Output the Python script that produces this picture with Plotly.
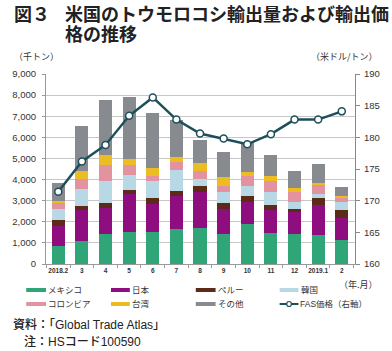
import plotly.graph_objects as go

months = ["2018.2", "3", "4", "5", "6", "7", "8", "9", "10", "11", "12", "2019.1", "2"]
mexico = [870, 1090, 1440, 1530, 1530, 1650, 1710, 1410, 1900, 1460, 1420, 1380, 1140]
japan = [930, 1490, 1190, 1780, 1310, 1550, 1690, 1200, 1020, 1100, 1020, 1400, 1030]
peru = [290, 190, 250, 200, 310, 270, 300, 270, 280, 240, 170, 330, 390]
korea = [520, 800, 1030, 710, 790, 960, 330, 510, 500, 620, 350, 190, 370]
colombia = [300, 480, 760, 450, 210, 380, 380, 310, 490, 490, 460, 470, 220]
taiwan = [80, 340, 470, 310, 420, 280, 370, 400, 190, 270, 200, 80, 50]
other = [840, 2140, 2630, 2950, 2600, 1710, 1110, 1200, 1400, 990, 790, 870, 470]
fas_price = [171.4, 176.2, 178.8, 183.4, 186.3, 182.8, 180.6, 179.8, 178.9, 180.5, 182.8, 182.8, 184.1]

series = [
    ("メキシコ", mexico, "#30a678"),
    ("日本", japan, "#8e0e80"),
    ("ペルー", peru, "#5c2b18"),
    ("韓国", korea, "#b8d8e6"),
    ("コロンビア", colombia, "#e3929f"),
    ("台湾", taiwan, "#ebbd22"),
    ("その他", other, "#878b8f"),
]
line_name = "FAS価格（右軸）"
line_color = "#1d4f5b"

W, H = 392, 351
L, R, T, B = 37, 27, 74, 87
PW, PH = W - L - R, H - T - B

JP = "Noto Sans CJK JP"
LAT = "Liberation Sans, Noto Sans CJK JP"


def px(x):
    return (x - L) / PW


def py(y):
    return (H - B - y) / PH


fig = go.Figure()
for name, vals, col in series:
    fig.add_trace(go.Bar(x=months, y=vals, name=name, marker=dict(color=col, line=dict(width=0)),
                         showlegend=False))
fig.add_trace(go.Scatter(x=months, y=fas_price, name=line_name, yaxis="y2", mode="lines+markers",
                         line=dict(color=line_color, width=2.5),
                         marker=dict(size=7, color="white", line=dict(color=line_color, width=1.5)),
                         showlegend=False))

anns = []
shapes = []


def ann(text, x, y, size, xanchor="left", family=JP, weight=400, color="#222"):
    anns.append(dict(text=text, x=px(x), y=py(y), xref="paper", yref="paper", xanchor=xanchor,
                     yanchor="middle", showarrow=False, borderpad=0,
                     font=dict(family=family, size=size, color=color, weight=weight)))


# title
ann("図３", 2, 12.5, 18, weight=700)
ann("米国のトウモロコシ輸出量および輸出価", 56, 12.5, 18, weight=700)
ann("格の推移", 56, 33.5, 18, weight=700)
# axis units
ann("（千トン）", 2, 57, 9, color="#333")
ann("（米ドル/トン）", 390, 57, 9, xanchor="right", color="#333")
ann("（年.月）", 390, 284, 9, xanchor="right", color="#333")

# legend
rows = [290, 304]
cols = [(16, 37), (106, 126), (196, 217), (285, 305)]
entries = [(n, c) for n, _, c in series] + [(line_name, None)]
for i, (name, col) in enumerate(entries):
    r, c = divmod(i, 4)
    yc = rows[r]
    x0, x1 = cols[c]
    if col is not None:
        shapes.append(dict(type="rect", xref="paper", yref="paper", x0=px(x0), x1=px(x1),
                           y0=py(yc + 2), y1=py(yc - 2), fillcolor=col, line=dict(width=0)))
        ann(name, x1 + 1.5, yc, 8.5, family=LAT, color="#333")
    else:
        shapes.append(dict(type="line", xref="paper", yref="paper", x0=px(x0), x1=px(x1),
                           y0=py(yc), y1=py(yc), line=dict(color=line_color, width=2)))
        xm = (x0 + x1) / 2
        shapes.append(dict(type="circle", xref="paper", yref="paper", x0=px(xm - 2.5), x1=px(xm + 2.5),
                           y0=py(yc + 2.5), y1=py(yc - 2.5), fillcolor="white",
                           line=dict(color=line_color, width=1.2)))
        ann(name, x1 + 0.5, yc, 8.5, family=LAT, color="#333")

# footer
ann("資料：「Global Trade Atlas」", 1, 324, 12, family=LAT, weight=500)
ann("注：HSコード100590", 13, 341, 12, family=LAT, weight=500)

fig.update_layout(
    width=W, height=H,
    margin=dict(l=L, r=R, t=T, b=B),
    barmode="stack", bargap=0.444,
    plot_bgcolor="white", paper_bgcolor="white",
    showlegend=False,
    annotations=anns, shapes=shapes,
    xaxis=dict(type="category", range=[-0.52, 12.56], showline=True, linecolor="#999", linewidth=1,
               ticks="outside", ticklen=3, tickcolor="#999", tickson="boundaries", tickangle=0,
               tickfont=dict(family="Liberation Sans", size=6.5, color="#333", weight=700),
               showgrid=False, fixedrange=True),
    yaxis=dict(range=[0, 9000], dtick=1000, tickformat=",d", showgrid=True, gridcolor="#c6c6c6",
               gridwidth=1, zeroline=False, showline=True, linecolor="#999", linewidth=1,
               ticks="outside", ticklen=3, tickcolor="#999",
               tickfont=dict(family="Liberation Sans", size=9.5, color="#333"), ticklabelstandoff=4),
    yaxis2=dict(range=[160, 190], dtick=5, overlaying="y", side="right", showgrid=False,
                zeroline=False, showline=True, linecolor="#888", linewidth=1.2,
                ticks="outside", ticklen=4, tickcolor="#888",
                tickfont=dict(family="Liberation Sans", size=9.5, color="#333"), ticklabelstandoff=2),
)

fig.write_html("out.html")
